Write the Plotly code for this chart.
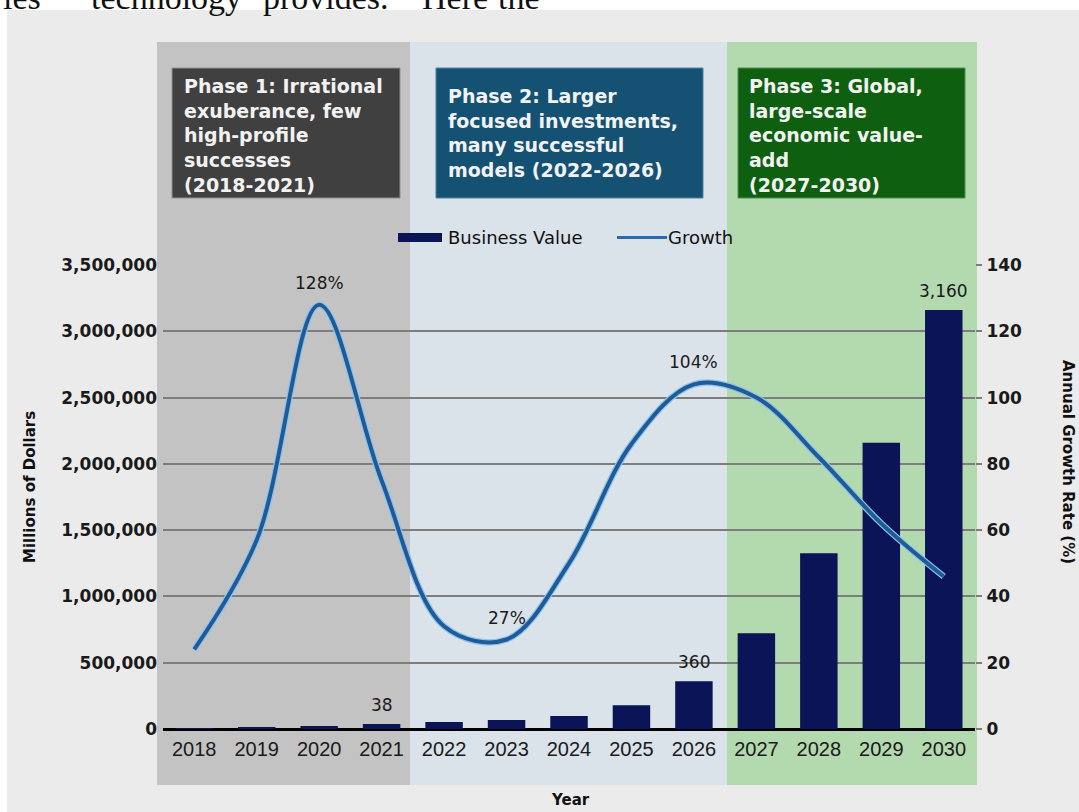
import plotly.graph_objects as go

# ---------------- data ----------------
years = ["2018", "2019", "2020", "2021", "2022", "2023", "2024",
         "2025", "2026", "2027", "2028", "2029", "2030"]
business_value = [6000, 9500, 21700, 38000, 53000, 68000, 98000,
                  180000, 360000, 723000, 1325000, 2160000, 3160000]
growth = [24, 57, 128, 75, 31, 27, 50, 86, 104, 100, 82, 62, 46]

value_labels = {"2021": "38", "2026": "360", "2030": "3,160"}
growth_labels = {"2020": "128%", "2023": "27%", "2026": "104%"}

left_ticks = [0, 500000, 1000000, 1500000, 2000000, 2500000, 3000000, 3500000]
right_ticks = [0, 20, 40, 60, 80, 100, 120, 140]

phase_texts = [
    "Phase 1: Irrational<br>exuberance, few<br>high-profile<br>successes<br>(2018-2021)",
    "Phase 2: Larger<br>focused investments,<br>many successful<br>models (2022-2026)",
    "Phase 3: Global,<br>large-scale<br>economic value-<br>add<br>(2027-2030)",
]
top_words = ["ies", "technology", "provides.", "Here", "the"]

# ---------------- layout helpers (pixel -> paper) ----------------
W, H = 1079, 812
L, R, T, B = 163, 975, 265, 729


def px(x):
    return (x - L) / (R - L)


def py(y):
    return (B - y) / (B - T)


NAVY = "#0b1457"
LINE = "#1f5b98"
SANS = "DejaVu Sans"
ARIAL = "Liberation Sans"

fig = go.Figure()

fig.add_trace(go.Bar(
    x=years, y=business_value, name="Business Value",
    marker=dict(color=NAVY, line=dict(width=0)),
    showlegend=False, hoverinfo="skip",
))
# light halo under the growth line
fig.add_trace(go.Scatter(
    x=years, y=growth, yaxis="y2", mode="lines",
    line=dict(shape="spline", smoothing=1.0, width=6.5, color="#8fc3ea"),
    showlegend=False, hoverinfo="skip",
))
fig.add_trace(go.Scatter(
    x=years, y=growth, yaxis="y2", mode="lines", name="Growth",
    line=dict(shape="spline", smoothing=1.0, width=4, color=LINE),
    showlegend=False, hoverinfo="skip",
))

shapes = []
# chart backdrop
shapes.append(dict(type="rect", xref="paper", yref="paper", layer="below",
                   x0=px(7), x1=px(W + 2), y0=py(H + 2), y1=py(10),
                   fillcolor="#ebebeb", line=dict(width=0)))
# phase background bands
for x0, x1, col in [(157, 410, "#c3c3c3"), (410, 727, "#dae2ea"), (727, 977, "#b3d9ae")]:
    shapes.append(dict(type="rect", xref="paper", yref="paper", layer="below",
                       x0=px(x0), x1=px(x1), y0=py(785), y1=py(42),
                       fillcolor=col, line=dict(width=0)))
# phase title boxes
for x0, x1, col, edge in [(172, 400, "#404040", "#8f8f8f"),
                          (436, 703, "#145172", "#4f84a0"),
                          (738, 965, "#0f5f10", "#4f8f4f")]:
    shapes.append(dict(type="rect", xref="paper", yref="paper", layer="below",
                       x0=px(x0), x1=px(x1), y0=py(198), y1=py(68),
                       fillcolor=col, line=dict(width=1, color=edge)))
# legend swatches
shapes.append(dict(type="rect", xref="paper", yref="paper",
                   x0=px(398), x1=px(442), y0=py(242), y1=py(233),
                   fillcolor=NAVY, line=dict(width=0)))
shapes.append(dict(type="line", xref="paper", yref="paper",
                   x0=px(617), x1=px(667), y0=py(237.5), y1=py(237.5),
                   line=dict(width=3, color="#2c6aae")))

annotations = []
# phase texts
for txt, x, yc in zip(phase_texts, [182, 446, 747], [135, 133, 135]):
    annotations.append(dict(text=txt, xref="paper", yref="paper",
                            x=px(x), y=py(yc), xanchor="left", yanchor="middle",
                            align="left", showarrow=False,
                            font=dict(family=SANS, size=19, color="#f2f2f2", weight="bold")))
# legend texts
annotations.append(dict(text="Business Value", xref="paper", yref="paper",
                        x=px(446), y=py(237.5), xanchor="left", yanchor="middle",
                        showarrow=False, font=dict(family=SANS, size=18, color="#111111")))
annotations.append(dict(text="Growth", xref="paper", yref="paper",
                        x=px(666), y=py(237.5), xanchor="left", yanchor="middle",
                        showarrow=False, font=dict(family=SANS, size=18, color="#111111")))
# data labels (category index positions on the x axis)
for yr, txt in value_labels.items():
    i = years.index(yr)
    annotations.append(dict(text=txt, xref="x", yref="y", x=i,
                            y=business_value[i],
                            xanchor="center", yanchor="bottom", yshift=7,
                            showarrow=False,
                            font=dict(family=SANS, size=17, color="#1a1a1a")))
for yr, txt in growth_labels.items():
    i = years.index(yr)
    annotations.append(dict(text=txt, xref="x", yref="y2", x=i,
                            y=growth[i],
                            xanchor="center", yanchor="bottom", yshift=10,
                            showarrow=False,
                            font=dict(family=SANS, size=17, color="#1a1a1a")))
# axis titles
annotations.append(dict(text="Millions of Dollars", xref="paper", yref="paper",
                        x=px(30), y=py(487), xanchor="center", yanchor="middle",
                        textangle=-90, showarrow=False,
                        font=dict(family=SANS, size=15, color="#111111", weight="bold")))
annotations.append(dict(text="Annual Growth Rate (%)", xref="paper", yref="paper",
                        x=px(1068), y=py(462), xanchor="center", yanchor="middle",
                        textangle=90, showarrow=False,
                        font=dict(family=SANS, size=15, color="#111111", weight="bold")))
annotations.append(dict(text="Year", xref="paper", yref="paper",
                        x=px(570), y=py(800), xanchor="center", yanchor="middle",
                        showarrow=False,
                        font=dict(family=SANS, size=15, color="#111111", weight="bold")))
# cropped text from the surrounding document (the reference shows it cut at the top)
for word, x in zip(top_words, [2, 90, 262, 421, 497]):
    annotations.append(dict(text=word, xref="paper", yref="paper",
                            x=px(x), y=py(17), xanchor="left", yanchor="bottom",
                            showarrow=False, borderpad=0,
                            font=dict(family="Liberation Serif", size=34, color="#111111")))

fig.update_layout(
    width=W, height=H,
    margin=dict(l=L, r=W - R, t=T, b=H - B, autoexpand=False),
    paper_bgcolor="white", plot_bgcolor="rgba(0,0,0,0)",
    showlegend=False, bargap=0.4, hovermode=False,
    shapes=shapes, annotations=annotations,
    xaxis=dict(type="category", range=[-0.5, len(years) - 0.5],
               showgrid=False, showline=False, zeroline=False,
               ticks="", ticklabelstandoff=6,
               tickfont=dict(family=ARIAL, size=20, color="#1a1a1a")),
    yaxis=dict(range=[0, 3500000], tickvals=left_ticks, tickformat=",d",
               showgrid=True, gridcolor="#7d7d7d", gridwidth=1.5,
               zeroline=True, zerolinecolor="#000000", zerolinewidth=2.5,
               showline=False, ticks="", ticklabelstandoff=5,
               tickfont=dict(family=SANS, size=17, color="#1a1a1a", weight="bold")),
    yaxis2=dict(range=[0, 140], tickvals=right_ticks, overlaying="y", side="right",
                showgrid=False, zeroline=False, showline=False,
                ticks="outside", ticklen=6, tickwidth=1.5, tickcolor="#7d7d7d",
                ticklabelstandoff=1,
                tickfont=dict(family=SANS, size=17, color="#1a1a1a", weight="bold")),
)

fig.write_html("out.html")
